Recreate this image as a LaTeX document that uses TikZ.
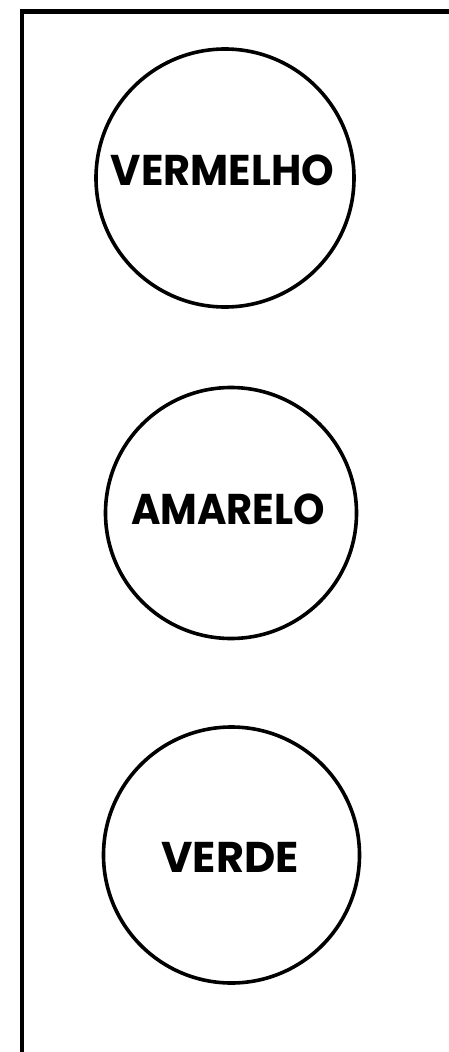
\documentclass[tikz,border=0pt]{standalone}
\usepackage{fontspec}
\setmainfont{Poppins}
\begin{document}
\begin{tikzpicture}[x=1pt,y=-1pt,
  ring/.style={draw, circle, line width=3.6pt, inner sep=0pt},
  word/.style={font=\bfseries\fontsize{43}{46}\selectfont, inner sep=0pt, anchor=center}]
\useasboundingbox (0,0) rectangle (449,1052);
\coordinate (tl) at (22,11.5);
\coordinate (tr) at (449,11.5);
\coordinate (bl) at (22,1052);
\draw[line width=4.5pt] (tr) -- (tl) -- (bl);
\node[ring, minimum size=258pt] (c1) at (225,178) {};
\node[ring, minimum size=251pt] (c2) at (231,513) {};
\node[ring, minimum size=256pt] (c3) at (231.5,855) {};
\node[word, xscale=0.965] (t1) at (222.5,170) {VERMELHO};
\node[word, xscale=0.93] (t2) at (228,509) {AMARELO};
\node[word] (t3) at (230,857.5) {VERDE};
\end{tikzpicture}
\end{document}
